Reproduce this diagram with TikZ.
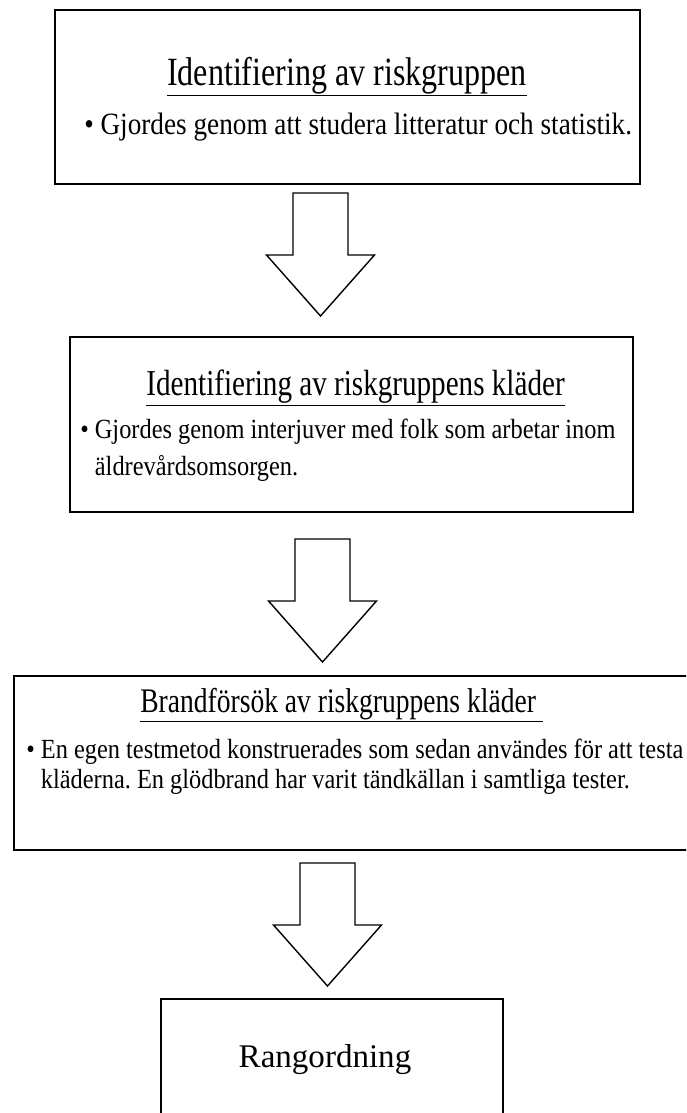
\documentclass[tikz,border=0pt]{standalone}
\usepackage{fontspec}
\setmainfont{Liberation Serif}
\newfontfamily\rubrikfont{Liberation Serif}[FakeStretch=0.8]
\newfontfamily\brodfont{Liberation Serif}[FakeStretch=0.88]
\frenchspacing

\tikzset{
  ruta/.style={draw=black, line width=1.2pt, inner sep=0pt},
  rubrik/.style={font=\rubrikfont\fontsize{#1}{30}\selectfont, anchor=base, inner sep=0pt},
  brod/.style={font=\brodfont\fontsize{#1}{24}\selectfont, anchor=base west, inner sep=0pt},
  pil/.style={draw=black, line width=1pt, fill=white, line join=miter}
}

% block arrow pointing down, #1 = top middle of the shaft
\newcommand{\nedpil}[1]{%
  \draw[pil] #1 ++(-27.5,0) -- ++(55,0) -- ++(0,62) -- ++(26.5,0)
    -- ++(-54,61) -- ++(-54,-61) -- ++(26.5,0) -- cycle;
}

\begin{document}
\begin{tikzpicture}[x=0.025cm,y=-0.025cm]
                \clip (0,0) rectangle (686,1113);
                \fill[white] (0,0) rectangle (686,1113);

                % Boxes
                \node[ruta, minimum width=14.625cm, minimum height=4.35cm] (riskgrupp) at (347.5,97) {};
                \node[ruta, minimum width=14.075cm, minimum height=4.375cm] (klader) at (351.5,424.5) {};
                \node[ruta, minimum width=17.4cm, minimum height=4.35cm] (brand) at (362,763) {};
                \node[ruta, minimum width=8.55cm, minimum height=3.525cm] (rang) at (332,1069.5) {};

                % Texts, box 1
                \node[rubrik=28.5] (t1) at (347,85) {\underline{Identifiering av riskgruppen}};
                \node[brod=22] (b1) at (84,134) {\textbullet~Gjordes genom att studera litteratur och statistik.};

                % Texts, box 2
                \node[rubrik=25.9, anchor=base east] (t2) at (565,395) {\underline{Identifiering av riskgruppens kläder}};
                \node[brod=19.7] (b2a) at (80,438) {\textbullet~Gjordes genom interjuver med folk som arbetar inom};
                \node[brod=19.7] (b2b) at (80,475) {\hphantom{\textbullet~}äldrevårdsomsorgen.};

                % Texts, box 3
                \node[rubrik=24.5, anchor=base west] (t3) at (140,712) {\underline{Brandförsök av riskgruppens kläder\ }};
                \node[brod=19.7] (b3a) at (26,758) {\textbullet~En egen testmetod konstruerades som sedan användes för att testa};
                \node[brod=19.7] (b3b) at (26,788) {\hphantom{\textbullet~}kläderna. En glödbrand har varit tändkällan i samtliga tester.};

                % Text, box 4
                \node[font=\fontsize{23.5}{28}\selectfont, anchor=base, inner sep=0pt] (t4) at (325,1067) {Rangordning};

                % Arrows
                \coordinate (pil1) at (320.5,193);
                \coordinate (pil2) at (322.5,539);
                \coordinate (pil3) at (327.5,863);
                \nedpil{(pil1)}
                \nedpil{(pil2)}
                \nedpil{(pil3)}
\end{tikzpicture}
\end{document}
